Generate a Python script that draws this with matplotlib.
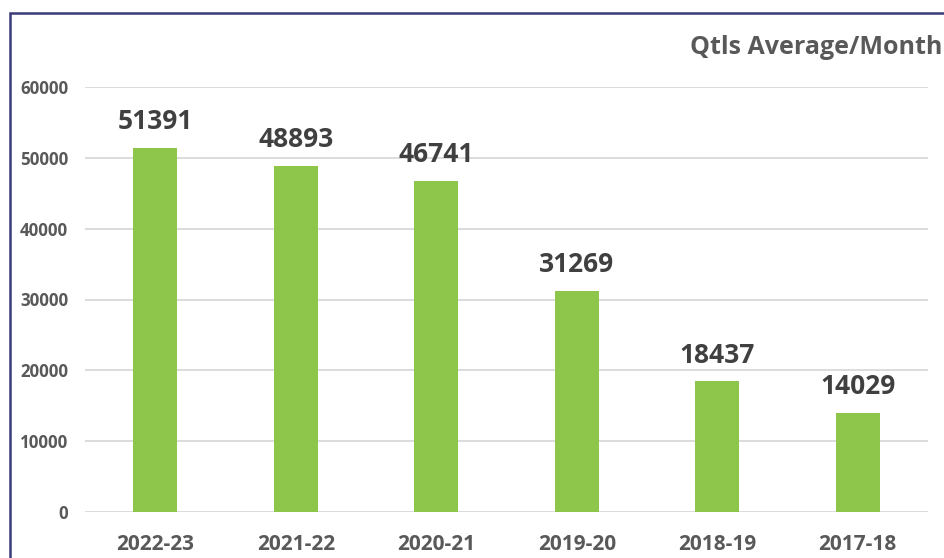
import matplotlib
matplotlib.use("Agg")
import matplotlib.pyplot as plt
from matplotlib.patches import Rectangle

categories = ["2022-23", "2021-22", "2020-21", "2019-20", "2018-19", "2017-18"]
values = [51391, 48893, 46741, 31269, 18437, 14029]
yticks = [0, 10000, 20000, 30000, 40000, 50000, 60000]
title = "Qtls Average/Month"

plt.rcParams['font.family'] = ['Open Sans', 'DejaVu Sans']

W, H = 944, 558
fig = plt.figure(figsize=(W/100, H/100), dpi=100)
ax = fig.add_axes([85/W, 1-512/H, (928-85)/W, (512-87)/H])

x = list(range(len(categories)))
bars = ax.bar(x, values, width=0.31, color="#8DC64B", zorder=3)
for xi, v in zip(x, values):
    ax.annotate(str(v), (xi, v), xytext=(0, 9), textcoords="offset points",
                ha="center", va="bottom", fontsize=19, fontweight="bold",
                color="#404040", clip_on=False)

ax.set_xlim(-0.5, len(categories)-0.5)
ax.set_ylim(0, 60000)
ax.set_yticks(yticks)
ax.set_yticklabels([str(t) for t in yticks])
ax.set_xticks(x)
ax.set_xticklabels(categories)
ax.grid(axis="y", color="#D9D9D9", linewidth=1.3, zorder=0)
ax.tick_params(axis="y", length=0, pad=12, labelsize=12.2, labelcolor="#595959")
ax.tick_params(axis="x", length=0, pad=16, labelsize=15, labelcolor="#595959")
for lab in ax.get_xticklabels() + ax.get_yticklabels():
    lab.set_fontweight("bold")
for s in ax.spines.values():
    s.set_visible(False)

fig.text(690/W, 1-48/H, title, ha="left", va="center", fontsize=18,
         fontweight="bold", color="#595959")

fig.patches.append(Rectangle((9.5/W, -0.1), 1.2, 1-12.5/H+0.1, transform=fig.transFigure,
                             fill=False, edgecolor="#3A3A78", linewidth=1.8))

fig.savefig("out.png", dpi=100)
